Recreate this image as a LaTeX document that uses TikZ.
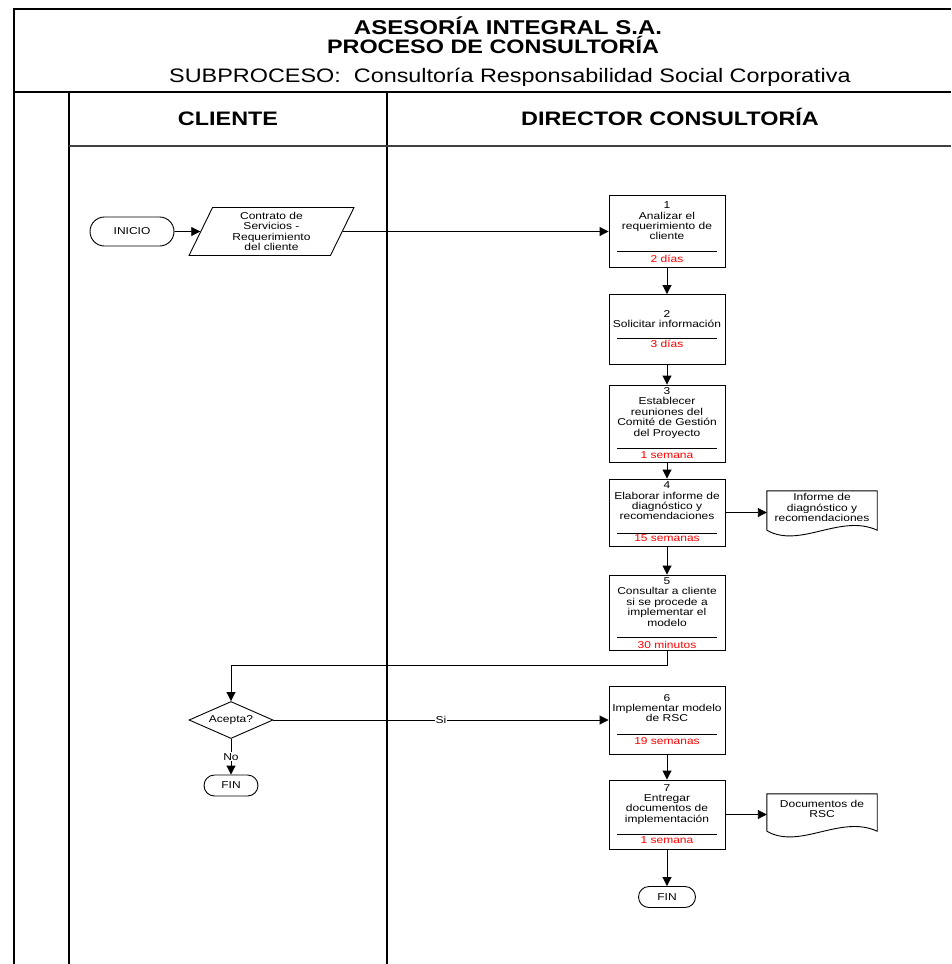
\documentclass[tikz,border=0pt]{standalone}
\usepackage{fontspec}
\setmainfont{Liberation Sans}[FakeStretch=1.2]
\usetikzlibrary{arrows.meta,shapes.geometric}

\begin{document}
\begin{tikzpicture}[x=1pt,y=-1pt,
  frame/.style={line width=1.4pt},
  lane/.style={line width=1.1pt},
  small/.style={font=\fontsize{10}{10.4}\selectfont},
  task/.style={draw,line width=0.9pt,minimum width=116pt,inner sep=0pt},
  tasktext/.style={small,align=center,inner sep=0pt,anchor=north},
  dur/.style={small,text=red,inner sep=0pt,anchor=base},
  rulebar/.style={line width=0.8pt},
  flow/.style={line width=0.9pt,-{Triangle[length=9pt,width=9pt]}},
  term/.style={draw,line width=0.9pt,small,inner sep=0pt},
  doc/.style={draw=none,inner sep=0pt,minimum width=110pt},
  docline/.style={line width=0.9pt},
  lbl/.style={small,fill=white,inner sep=1pt}
]
\useasboundingbox (0,0) rectangle (951,964);

% outer frame and swimlanes
\draw[frame] (14,964) -- (14,9) -- (951,9);
\draw[frame] (14,92) -- (951,92);
\draw[lane] (69,92) -- (69,964);
\draw[lane] (387,92) -- (387,964);
\draw[lane,black!75] (69,146) -- (951,146);

% header
\node[anchor=base,inner sep=0pt,font=\fontsize{20}{24}\selectfont\bfseries] (t1) at (508,34) {ASESORÍA INTEGRAL S.A.};
\node[anchor=base,inner sep=0pt,font=\fontsize{19.5}{24}\selectfont\bfseries] (t2) at (493,53) {PROCESO DE CONSULTORÍA};
\node[anchor=base,inner sep=0pt,font=\fontsize{19.5}{24}\selectfont] (t3) at (510,82) {SUBPROCESO:\ \ Consultoría Responsabilidad Social Corporativa};
\node[anchor=base,inner sep=0pt,font=\fontsize{19.5}{24}\selectfont\bfseries] (l1) at (228,125) {CLIENTE};
\node[anchor=base,inner sep=0pt,font=\fontsize{19.5}{24}\selectfont\bfseries] (l2) at (670,125) {DIRECTOR CONSULTORÍA};

% start
\node[term,minimum width=84pt,minimum height=29pt,rounded corners=14.5pt] (ini) at (132,231.5) {INICIO};
\node[draw,line width=0.9pt,small,align=center,inner sep=0pt,
      trapezium,trapezium left angle=68,trapezium right angle=112,trapezium stretches=true,
      minimum width=165pt,minimum height=48pt] (req) at (271.5,231.5)
      {Contrato de\\Servicios -\\Requerimiento\\del cliente};

% tasks of the director
\node[task,minimum height=72pt] (b1) at (667,231.5) {};
\node[tasktext] (b1t) at (667,201.7) {1\\Analizar el\\requerimiento de\\cliente};
\draw[rulebar] (617,251) -- (717,251);
\node[dur] (b1d) at (667,262) {2 días};

\node[task,minimum height=70pt] (b2) at (667,329.5) {};
\node[tasktext] (b2t) at (667,310) {2\\Solicitar información};
\draw[rulebar] (617,338) -- (717,338);
\node[dur] (b2d) at (667,347.5) {3 días};

\node[task,minimum height=77pt] (b3) at (667,423.5) {};
\node[tasktext] (b3t) at (667,387.3) {3\\Establecer\\reuniones del\\Comité de Gestión\\del Proyecto};
\draw[rulebar] (617,448.5) -- (717,448.5);
\node[dur] (b3d) at (667,458.5) {1 semana};

\node[task,minimum height=67pt] (b4) at (667,512.5) {};
\node[tasktext] (b4t) at (667,481.7) {4\\Elaborar informe de\\diagnóstico y\\recomendaciones};
\draw[rulebar] (617,533) -- (717,533);
\node[dur] (b4d) at (667,541) {15 semanas};

\node[task,minimum height=75pt] (b5) at (667,612.5) {};
\node[tasktext] (b5t) at (667,577.5) {5\\Consultar a cliente\\si se procede a\\implementar el\\modelo};
\draw[rulebar] (617,637) -- (717,637);
\node[dur] (b5d) at (667,648.5) {30 minutos};

\node[task,minimum height=68pt] (b6) at (667,720) {};
\node[tasktext] (b6t) at (667,694) {6\\Implementar modelo\\de RSC};
\draw[rulebar] (617,734) -- (717,734);
\node[dur] (b6d) at (667,744) {19 semanas};

\node[task,minimum height=69pt] (b7) at (667,814.5) {};
\node[tasktext] (b7t) at (667,784) {7\\Entregar\\documentos de\\implementación};
\draw[rulebar] (617,834) -- (717,834);
\node[dur] (b7d) at (667,843) {1 semana};

% documents
\node[doc,minimum height=39pt] (d1) at (822,510.5) {};
\draw[docline] (d1.south west) -- (d1.north west) -- (d1.north east) -- (d1.south east)
  .. controls +(-37,-17) and +(33,19) .. (d1.south west);
\node[tasktext] (d1t) at (822,493.5) {Informe de\\diagnóstico y\\recomendaciones};

\node[doc,minimum height=37pt] (d2) at (822,812.5) {};
\draw[docline] (d2.south west) -- (d2.north west) -- (d2.north east) -- (d2.south east)
  .. controls +(-37,-17) and +(33,19) .. (d2.south west);
\node[tasktext] (d2t) at (822,800) {Documentos de\\RSC};

% decision and ends
\node[draw,line width=0.9pt,small,diamond,aspect=2.27,inner sep=0pt,
      minimum width=84pt,minimum height=37pt] (dec) at (231,720) {Acepta?};
\node[term,minimum width=54pt,minimum height=21pt,rounded corners=10.5pt] (fin1) at (231,785.5) {FIN};
\node[term,minimum width=57pt,minimum height=21pt,rounded corners=10.5pt] (fin2) at (667,897) {FIN};

% connectors
\draw[flow] (ini.east) -- (req.west);
\draw[flow] (req.east) -- (req.east -| b1.west);
\draw[flow] (b1.south) -- (b2.north);
\draw[flow] (b2.south) -- (b3.north);
\draw[flow] (b3.south) -- (b4.north);
\draw[flow] (b4.east) -- (b4.east -| d1.west);
\draw[flow] (b4.south) -- (b5.north);
\draw[flow] (b5.south) -- ++(0,15) -| (dec.north);
\draw[flow] (dec.east) -- node[lbl] (si) {Si} (b6.west);
\draw[flow] (dec.south) -- node[lbl] (no) {No} (fin1.north);
\draw[flow] (b6.south) -- (b7.north);
\draw[flow] (b7.east) -- (b7.east -| d2.west);
\draw[flow] (b7.south) -- (fin2.north);
\end{tikzpicture}
\end{document}
